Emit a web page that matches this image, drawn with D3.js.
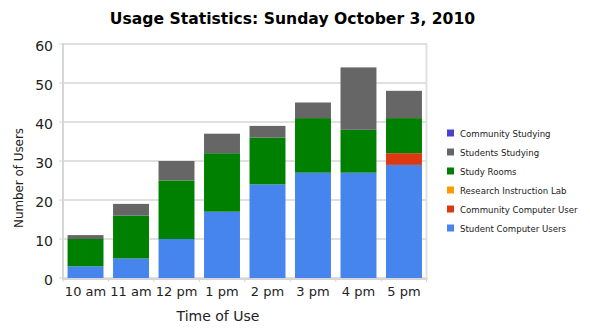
<!DOCTYPE html>
<html>
<head>
<meta charset="utf-8">
<script src="https://cdn.jsdelivr.net/npm/d3@7"></script>
<style>
  html, body { margin: 0; padding: 0; background: #fff; }
  svg { display: block; font-family: "DejaVu Sans", sans-serif; }
</style>
</head>
<body>
<svg id="chart" width="590" height="332"></svg>
<script>
const categories = ["10 am", "11 am", "12 pm", "1 pm", "2 pm", "3 pm", "4 pm", "5 pm"];
const seriesNames = ["Student Computer Users", "Community Computer User", "Research Instruction Lab", "Study Rooms", "Students Studying", "Community Studying"];
const seriesColors = ["#4684ee", "#dc3912", "#ff9900", "#008000", "#666666", "#4942cc"];
const studentComputerUsers = [3, 5, 10, 17, 24, 27, 27, 29];
const communityComputerUser = [0, 0, 0, 0, 0, 0, 0, 3];
const researchInstructionLab = [0, 0, 0, 0, 0, 0, 0, 0];
const studyRooms = [7, 11, 15, 15, 12, 14, 11, 9];
const studentsStudying = [1, 3, 5, 5, 3, 4, 16, 7];
const communityStudying = [0, 0, 0, 0, 0, 0, 0, 0];
const yTicks = [0, 10, 20, 30, 40, 50, 60];
const titleText = "Usage Statistics: Sunday October 3, 2010";
const xTitle = "Time of Use";
const yTitle = "Number of Users";

const seriesValues = [studentComputerUsers, communityComputerUser, researchInstructionLab, studyRooms, studentsStudying, communityStudying];
const table = categories.map((c, i) => {
  const row = { cat: c };
  seriesNames.forEach((s, k) => row[s] = seriesValues[k][i]);
  return row;
});

const svg = d3.select("#chart");
const pLeft = 63, pRight = 426.5, pTop = 44, pBottom = 278;

const x = d3.scaleBand().domain(categories).range([pLeft, pRight]).paddingInner(0.21).paddingOuter(0.1);
const y = d3.scaleLinear().domain([0, 60]).range([pBottom, pTop]);

// gridlines
svg.append("g").selectAll("line").data(yTicks).join("line")
  .attr("x1", pLeft).attr("x2", pRight)
  .attr("y1", d => y(d)).attr("y2", d => y(d))
  .attr("stroke", "#e0e0e0").attr("stroke-width", 2);

// frame: left axis & right border
svg.append("line").attr("x1", pLeft).attr("x2", pLeft).attr("y1", pTop - 1).attr("y2", pBottom + 1)
  .attr("stroke", "#d6d6d6").attr("stroke-width", 2);
svg.append("line").attr("x1", pRight).attr("x2", pRight).attr("y1", pTop - 1).attr("y2", pBottom + 1)
  .attr("stroke", "#e0e0e0").attr("stroke-width", 2);

// y ticks
svg.append("g").selectAll("line").data(yTicks).join("line")
  .attr("x1", pLeft - 4).attr("x2", pLeft)
  .attr("y1", d => y(d)).attr("y2", d => y(d))
  .attr("stroke", "#d6d6d6").attr("stroke-width", 1);

// x ticks at band boundaries
const boundaries = d3.range(categories.length + 1).map(i => {
  if (i === 0) return pLeft;
  if (i === categories.length) return pRight;
  return (x(categories[i - 1]) + x.bandwidth() + x(categories[i])) / 2;
});
svg.append("g").selectAll("line").data(boundaries).join("line")
  .attr("x1", d => d).attr("x2", d => d)
  .attr("y1", pBottom).attr("y2", pBottom + 4)
  .attr("stroke", "#d6d6d6").attr("stroke-width", 1);

// stacked bars
const stack = d3.stack().keys(seriesNames)(table);
svg.append("g").selectAll("g").data(stack).join("g")
  .attr("fill", (d, i) => seriesColors[i])
  .selectAll("rect").data(d => d).join("rect")
  .attr("x", d => x(d.data.cat))
  .attr("width", x.bandwidth())
  .attr("y", d => y(d[1]))
  .attr("height", d => y(d[0]) - y(d[1]));

// bottom axis line (on top of bars)
svg.append("line").attr("x1", pLeft - 1).attr("x2", pRight + 1).attr("y1", pBottom + 1).attr("y2", pBottom + 1)
  .attr("stroke", "#d6d6d6").attr("stroke-width", 2);

// y tick labels
svg.append("g").selectAll("text").data(yTicks).join("text")
  .attr("x", 53).attr("y", d => y(d) + 7)
  .attr("text-anchor", "end")
  .attr("font-size", 14).attr("fill", "#222")
  .text(d => d);

// x labels
svg.append("g").selectAll("text").data(categories).join("text")
  .attr("x", d => x(d) + x.bandwidth() / 2).attr("y", 296)
  .attr("text-anchor", "middle")
  .attr("font-size", 13).attr("fill", "#222")
  .text(d => d);

// title
svg.append("text").attr("x", 292.5).attr("y", 24).attr("text-anchor", "middle")
  .attr("font-size", 15.6).attr("font-weight", "bold").attr("fill", "#000")
  .text(titleText);

// axis titles
svg.append("text").attr("x", 218).attr("y", 321).attr("text-anchor", "middle")
  .attr("font-size", 14).attr("fill", "#222").text(xTitle);
svg.append("text").attr("transform", "translate(23,178) rotate(-90)").attr("text-anchor", "middle")
  .attr("font-size", 12).attr("fill", "#222").attr("textLength", 100).attr("lengthAdjust", "spacingAndGlyphs")
  .text(yTitle);

// legend (reverse order, top = last series)
const legendItems = seriesNames.map((n, i) => ({ name: n, color: seriesColors[i] })).reverse();
const lg = svg.append("g").selectAll("g").data(legendItems).join("g")
  .attr("transform", (d, i) => `translate(447,${133 + i * 19})`);
lg.append("rect").attr("x", 0).attr("y", -3.5).attr("width", 7).attr("height", 7).attr("fill", d => d.color);
lg.append("text").attr("x", 13).attr("y", 3.5).attr("font-size", 8.6).attr("fill", "#222").text(d => d.name);
</script>
</body>
</html>
